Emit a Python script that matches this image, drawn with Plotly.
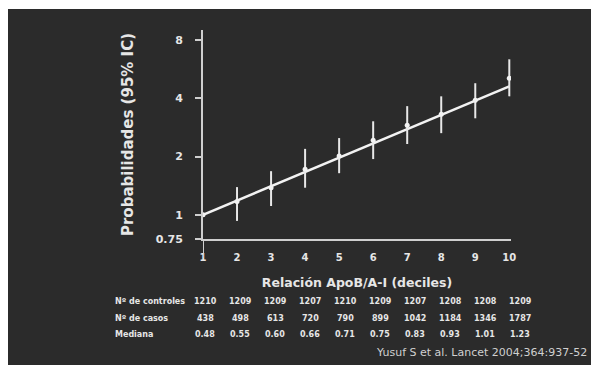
import plotly.graph_objects as go

# ---- data ----
deciles = [1, 2, 3, 4, 5, 6, 7, 8, 9, 10]
odds = [1.00, 1.17, 1.38, 1.72, 2.01, 2.43, 2.90, 3.31, 3.90, 5.07]
ci_low = [1.00, 0.93, 1.11, 1.38, 1.64, 1.94, 2.32, 2.64, 3.15, 4.09]
ci_high = [1.00, 1.39, 1.68, 2.19, 2.49, 3.04, 3.64, 4.09, 4.78, 6.35]
trend_x = [1, 10]
trend_y = [1.00, 4.60]
y_ticks = [0.75, 1, 2, 4, 8]
y_tick_text = ["0.75", "1", "2", "4", "8"]
row_labels = ["Nº de controles", "Nº de casos", "Mediana"]
n_controls = ["1210", "1209", "1209", "1207", "1210", "1209", "1207", "1208", "1208", "1209"]
n_cases = ["438", "498", "613", "720", "790", "899", "1042", "1184", "1346", "1787"]
medians = ["0.48", "0.55", "0.60", "0.66", "0.71", "0.75", "0.83", "0.93", "1.01", "1.23"]
citation = "Yusuf S et al. Lancet 2004;364:937-52"

BG = "#2b2b2b"
FG = "#e6e6e6"
FONT = "DejaVu Sans"

fig = go.Figure()
fig.add_trace(go.Scatter(
    x=trend_x, y=trend_y, mode="lines",
    line=dict(color="#f2f2f2", width=2.5), hoverinfo="skip", showlegend=False))
fig.add_trace(go.Scatter(
    x=deciles, y=odds, mode="markers",
    marker=dict(color="#f2f2f2", size=5),
    error_y=dict(type="data", symmetric=False,
                 array=[h - o for h, o in zip(ci_high, odds)],
                 arrayminus=[o - l for o, l in zip(odds, ci_low)],
                 color="#e8e8e8", thickness=2, width=0),
    showlegend=False))

# table
rows = [n_controls, n_cases, medians]
row_y = [-0.301, -0.378, -0.455]
for lab, vals, yy in zip(row_labels, rows, row_y):
    fig.add_annotation(x=-0.292, y=yy, xref="paper", yref="paper", text=lab,
                       showarrow=False, xanchor="left", yanchor="middle",
                       font=dict(family=FONT, size=8, color=FG, weight="bold"))
    for i, (d, v) in enumerate(zip(deciles, vals)):
        fig.add_annotation(x=d, y=yy, xref="x", yref="paper", text=v,
                           showarrow=False, xanchor="center", yanchor="middle",
                           xshift=2 + i,
                           font=dict(family=FONT, size=8, color=FG, weight="bold"))

fig.add_annotation(x=(589 - 203) / 308, y=(239 - 352) / 209, xref="paper", yref="paper",
                   text=citation, showarrow=False, xanchor="right", yanchor="middle",
                   font=dict(family=FONT, size=11, color="#d0d0d0"))

# y-axis line continues a little below the x axis
fig.add_shape(type="line", xref="x", yref="paper", x0=1, x1=1, y0=-0.09, y1=0,
              line=dict(color="#cfcfcf", width=2))

# white border strips of the original screenshot
fig.add_shape(type="rect", xref="paper", yref="paper",
              x0=-0.70, x1=(8 - 203) / 308, y0=-0.65, y1=1.2,
              fillcolor="white", line_width=0, layer="below")
fig.add_shape(type="rect", xref="paper", yref="paper",
              x0=-0.70, x1=1.3, y0=(239 - 9) / 209, y1=1.2,
              fillcolor="white", line_width=0, layer="below")

fig.update_layout(
    width=591, height=365,
    margin=dict(l=203, r=80, t=30, b=126),
    paper_bgcolor=BG, plot_bgcolor=BG,
    font=dict(family=FONT, color=FG),
    xaxis=dict(range=[1, 10.05], tickvals=deciles, ticktext=[str(d) for d in deciles],
               showgrid=False, zeroline=False, showline=True, linecolor="#cfcfcf", linewidth=2,
               ticks="", ticklabelstandoff=8,
               tickfont=dict(family=FONT, size=10, color=FG, weight="bold"),
               title=dict(text="Relación ApoB/A-I (deciles)", standoff=16,
                          font=dict(family=FONT, size=12.5, color=FG, weight="bold"))),
    yaxis=dict(type="log", range=[-0.1249, 0.9542], tickvals=y_ticks, ticktext=y_tick_text,
               showgrid=False, zeroline=False, showline=True, linecolor="#cfcfcf", linewidth=2,
               ticks="outside", ticklen=6, tickwidth=1.5, tickcolor="#cfcfcf",
               ticklabelstandoff=10,
               tickfont=dict(family=FONT, size=11, color=FG, weight="bold"),
               title=dict(text="Probabilidades (95% IC)", standoff=18,
                          font=dict(family=FONT, size=15, color=FG, weight="bold"))),
)

fig.write_html("out.html")
